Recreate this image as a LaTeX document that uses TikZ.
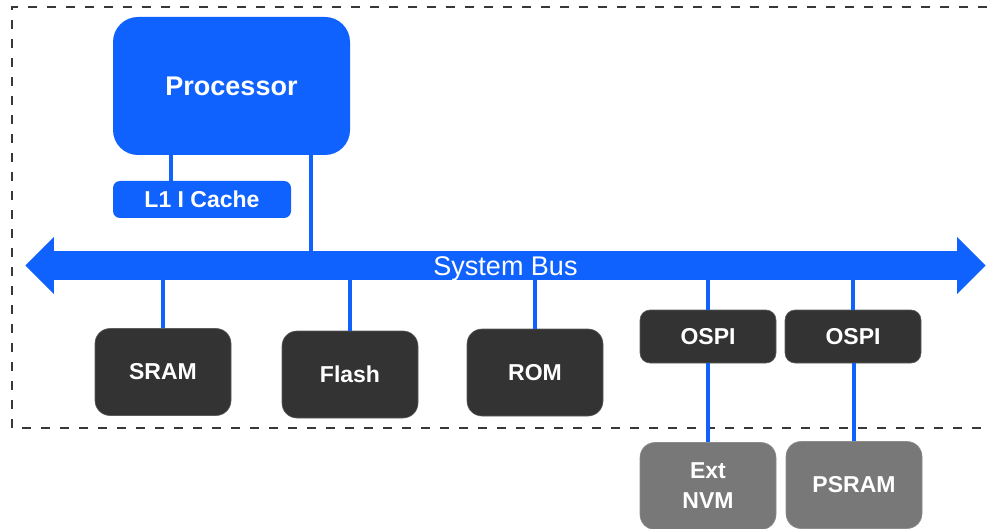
\documentclass[tikz,border=0pt]{standalone}
\usepackage{fontspec}
\setmainfont{Liberation Sans}
\usetikzlibrary{calc}
\definecolor{busblue}{HTML}{0F62FE}
\definecolor{darkbox}{HTML}{333333}
\definecolor{greybox}{HTML}{787878}
\definecolor{frameline}{HTML}{383838}
\tikzset{
  bluebox/.style={rectangle, fill=busblue, text=white, inner sep=0pt,
    font=\fontsize{23}{28}\selectfont\bfseries},
  devbox/.style={rectangle, rounded corners=15pt, fill=darkbox, draw=darkbox!80!white,
    line width=0.6pt, text=white, inner sep=0pt, minimum width=136pt, minimum height=87pt,
    align=center, font=\fontsize{23}{30}\selectfont\bfseries},
  portbox/.style={devbox, rounded corners=10pt, minimum height=53pt},
  extbox/.style={devbox, fill=greybox, draw=greybox!85!white},
  conn/.style={draw=busblue, line width=4pt},
  frame/.style={draw=frameline, line width=2.4pt, dash pattern=on 9pt off 10pt},
}
\begin{document}
\begin{tikzpicture}[x=1pt,y=-1pt]
  \useasboundingbox (0,0) rectangle (987,529);

  % system boundary (open on the right)
  \draw[frame] (987,7) -- (12,7) -- (12,428) -- (987,428);

  % processor and its instruction cache
  \node[bluebox, rounded corners=25pt, minimum width=237pt, minimum height=138pt,
        font=\fontsize{27}{32}\selectfont\bfseries] (proc) at (231.5,86) {\raisebox{-1pt}{Processor}};
  \node[bluebox, rounded corners=7pt, minimum width=178pt, minimum height=37pt]
        (cache) at (202,199.5) {\raisebox{-1.5pt}{L1 I Cache}};

  % system bus with arrowheads at both ends
  \node[rectangle, fill=busblue, text=white, inner sep=0pt, minimum width=904pt,
        minimum height=29pt, text depth=0pt, font=\fontsize{27}{32}\selectfont]
        (bus) at (505.5,265.5) {\raisebox{-1pt}{System Bus}};
  \fill[busblue] ([xshift=0.5pt]bus.west) ++(0,-28.5) -- ++(-28.5,28.5) -- ++(28.5,28.5) -- cycle;
  \fill[busblue] ([xshift=-0.5pt]bus.east) ++(0,-28.5) -- ++(28.5,28.5) -- ++(-28.5,28.5) -- cycle;

  % memories and controllers
  \node[devbox] (sram)  at (163,372)   {\raisebox{-1pt}{SRAM}};
  \node[devbox] (flash) at (350,374.5) {\raisebox{-1pt}{Flash}};
  \node[devbox] (rom)   at (535,372.5) {\raisebox{-1pt}{ROM}};
  \node[portbox] (ospiA) at (708,336.5) {\raisebox{-1pt}{OSPI}};
  \node[portbox] (ospiB) at (853,336.5) {\raisebox{-1pt}{OSPI}};
  \node[extbox] (nvm)   at (708,486)   {Ext\\NVM};
  \node[extbox] (psram) at (854,485)   {\raisebox{-1pt}{PSRAM}};

  % processor links
  \coordinate (pcache) at ([xshift=58pt]proc.south west);
  \draw[conn] (pcache) -- (pcache |- cache.north);
  \coordinate (pbus) at ([xshift=-39pt]proc.south east);
  \draw[conn] (pbus) -- (pbus |- bus.north);

  % bus taps
  \foreach \n in {sram,flash,rom,ospiA,ospiB}
    \draw[conn] (\n.north) -- (\n.north |- bus.south);

  % controller to external device
  \draw[conn] (ospiA.south) -- (ospiA.south |- nvm.north);
  \draw[conn] ([xshift=1pt]ospiB.south) -- ([xshift=1pt]ospiB.south |- psram.north);
\end{tikzpicture}
\end{document}
